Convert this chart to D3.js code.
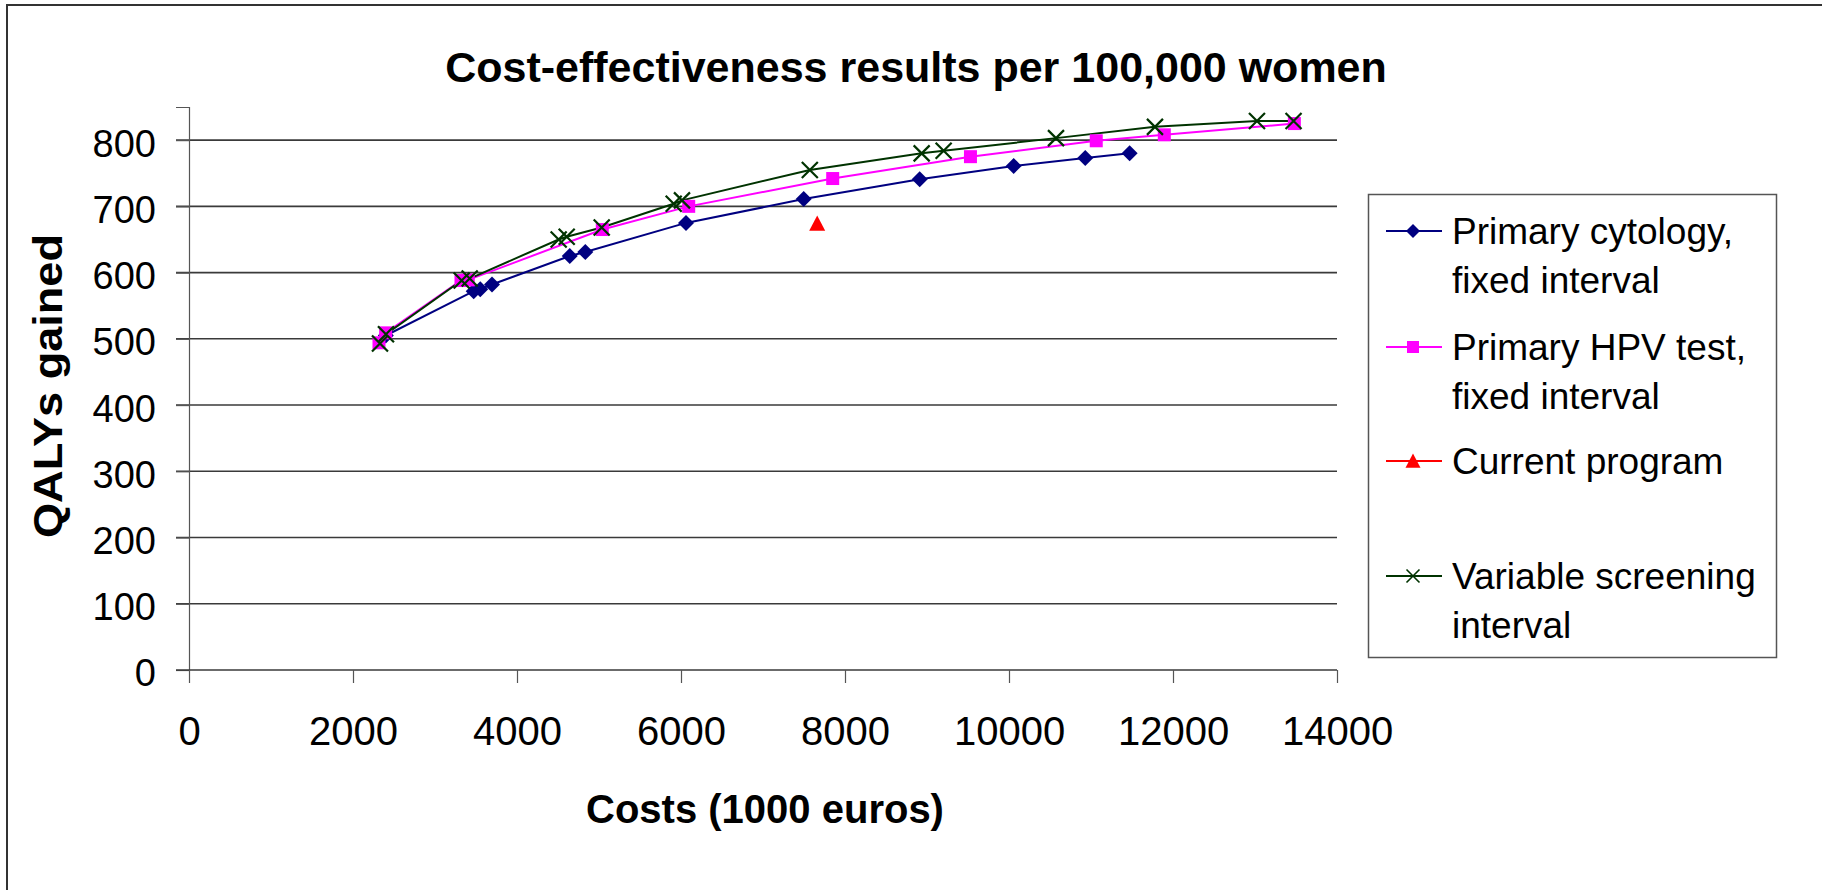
<!DOCTYPE html>
<html>
<head>
<meta charset="utf-8">
<script src="https://cdn.jsdelivr.net/npm/d3@7"></script>
<style>
  html, body { margin: 0; padding: 0; background: #fff; }
  svg { display: block; }
  text { font-family: "Liberation Sans", Arial, sans-serif; fill: #000; }
</style>
</head>
<body>
<svg id="chart" width="1822" height="890"></svg>
<script>
// ---- data ----
const title = "Cost-effectiveness results per 100,000 women";
const xTitle = "Costs (1000 euros)";
const yTitle = "QALYs gained";
const xTicks = [0, 2000, 4000, 6000, 8000, 10000, 12000, 14000];
const yTicks = [0, 100, 200, 300, 400, 500, 600, 700, 800];

const cytologyCost  = [2400, 3472, 3552, 3695, 4643, 4833, 6061, 7496, 8911, 10057, 10930, 11471];
const cytologyQaly  = [505, 572, 575, 582, 625, 631, 675, 711, 741, 761, 773, 780];

const hpvCost  = [2317, 2398, 3317, 3406, 5040, 6094, 7850, 9530, 11064, 11894, 13480];
const hpvQaly  = [494, 509, 588, 589, 665, 700, 742, 775, 799, 808, 825];

const currentCost = [7661];
const currentQaly = [674];

const variableCost = [2329, 2402, 3325, 3423, 4508, 4606, 5033, 5911, 6012, 7571, 8935, 9203, 10573, 11780, 13024, 13470];
const variableQaly = [493, 507, 588, 591, 650, 654, 668, 704, 709, 755, 780, 784, 803, 820, 829, 829];

const seriesNames = [
  ["Primary cytology,", "fixed interval"],
  ["Primary HPV test,", "fixed interval"],
  ["Current program"],
  ["Variable screening", "interval"]
];
const seriesColors = ["#000080", "#FF00FF", "#FF0000", "#003300"];
const seriesShapes = ["diamond", "square", "triangle", "cross"];

// ---- build ----
const series = [
  {cost: cytologyCost, qaly: cytologyQaly},
  {cost: hpvCost, qaly: hpvQaly},
  {cost: currentCost, qaly: currentQaly},
  {cost: variableCost, qaly: variableQaly}
].map((s, i) => ({
  name: seriesNames[i], color: seriesColors[i], shape: seriesShapes[i],
  points: s.cost.map((c, j) => ({x: c, y: s.qaly[j]}))
}));

const svg = d3.select("#chart");

// outer chart border
svg.append("rect").attr("x", 7).attr("y", 5).attr("width", 1900).attr("height", 1000)
  .attr("fill", "none").attr("stroke", "#333").attr("stroke-width", 2);

const x = d3.scaleLinear().domain([0, 14000]).range([189, 1337]);
const y = d3.scaleLinear().domain([0, 850]).range([670, 107]);

// gridlines (with left tick extension)
svg.append("g").selectAll("line").data(yTicks.filter(d => d > 0)).join("line")
  .attr("x1", 176).attr("x2", x(14000))
  .attr("y1", d => y(d)).attr("y2", d => y(d))
  .attr("stroke", "#3a3a3a").attr("stroke-width", 1.6);

// y axis
const yAxis = d3.axisLeft(y).tickValues(yTicks).tickSize(13).tickPadding(20).tickFormat(d3.format("d"));
const gy = svg.append("g").attr("transform", `translate(${x(0)},0)`).call(yAxis);
gy.select(".domain").attr("stroke", "#555").attr("stroke-width", 1.2);
gy.selectAll(".tick line").attr("stroke", "#555").attr("stroke-width", 1.2);
gy.selectAll(".tick text").attr("font-size", 38).attr("dy", "0.42em")
  .style("font-family", "'Liberation Sans', Arial, sans-serif").attr("fill", "#000");

// x axis
const xAxis = d3.axisBottom(x).tickValues(xTicks).tickSize(13).tickPadding(34).tickFormat(d3.format("d"));
const gx = svg.append("g").attr("transform", `translate(0,${y(0)})`).call(xAxis);
gx.select(".domain").attr("stroke", "#3a3a3a").attr("stroke-width", 1.6).attr("d", `M${x(0) - 13},0H${x(14000)}`);
gx.selectAll(".tick line").attr("stroke", "#555").attr("stroke-width", 1.2);
gx.selectAll(".tick text").attr("font-size", 40).attr("dy", "0.71em")
  .style("font-family", "'Liberation Sans', Arial, sans-serif").attr("fill", "#000");

// markers
function markerPath(shape, s) {
  const r = s / 2;
  switch (shape) {
    case "diamond": return `M0,${-r}L${r},0L0,${r}L${-r},0Z`;
    case "square": return `M${-r},${-r}H${r}V${r}H${-r}Z`;
    case "triangle": return `M0,${-r}L${r},${r * 0.9}L${-r},${r * 0.9}Z`;
    case "cross": return `M${-r},${-r}L${r},${r}M${r},${-r}L${-r},${r}`;
  }
}
function drawMarker(g, shape, color, size, sw) {
  const p = g.append("path").attr("d", markerPath(shape, size));
  if (shape === "cross") p.attr("fill", "none").attr("stroke", color).attr("stroke-width", sw || 2);
  else p.attr("fill", color).attr("stroke", "none");
}

const line = d3.line().x(d => x(d.x)).y(d => y(d.y));
const plot = svg.append("g");
series.forEach(s => {
  if (s.points.length > 1) {
    plot.append("path").datum(s.points).attr("d", line)
      .attr("fill", "none").attr("stroke", s.color).attr("stroke-width", 2);
  }
});
const markerSizes = {diamond: 16, square: 13, triangle: 16, cross: 16};
series.forEach(s => {
  s.points.forEach(p => {
    const g = plot.append("g").attr("transform", `translate(${x(p.x)},${y(p.y)})`);
    drawMarker(g, s.shape, s.color, markerSizes[s.shape], 2.2);
  });
});

// title
svg.append("text").attr("x", 916).attr("y", 82).attr("text-anchor", "middle")
  .attr("font-size", 43).attr("font-weight", "bold").text(title);

// axis titles
svg.append("text").attr("x", 765).attr("y", 823).attr("text-anchor", "middle")
  .attr("font-size", 40).attr("font-weight", "bold").text(xTitle);
svg.append("text").attr("transform", "translate(62,386) rotate(-90) scale(1.1,1)").attr("text-anchor", "middle")
  .attr("font-size", 41).attr("font-weight", "bold").text(yTitle);

// legend
const lg = svg.append("g");
lg.append("rect").attr("x", 1368.5).attr("y", 194.5).attr("width", 408).attr("height", 463)
  .attr("fill", "#fff").attr("stroke", "#555").attr("stroke-width", 1.5);
const legendLineY = [231, 347, 461, 576];
const legendMarkerSizes = {diamond: 14, square: 12, triangle: 15, cross: 13};
series.forEach((s, i) => {
  const ly = legendLineY[i];
  lg.append("line").attr("x1", 1386).attr("x2", 1442).attr("y1", ly).attr("y2", ly)
    .attr("stroke", s.color).attr("stroke-width", 2);
  const g = lg.append("g").attr("transform", `translate(1413,${ly})`);
  drawMarker(g, s.shape, s.color, legendMarkerSizes[s.shape], 1.6);
  const t = lg.append("text").attr("x", 1452).attr("y", ly + 13).attr("font-size", 37);
  s.name.forEach((ln, k) => {
    t.append("tspan").attr("x", 1452).attr("dy", k === 0 ? 0 : 48.5).text(ln);
  });
});
</script>
</body>
</html>
